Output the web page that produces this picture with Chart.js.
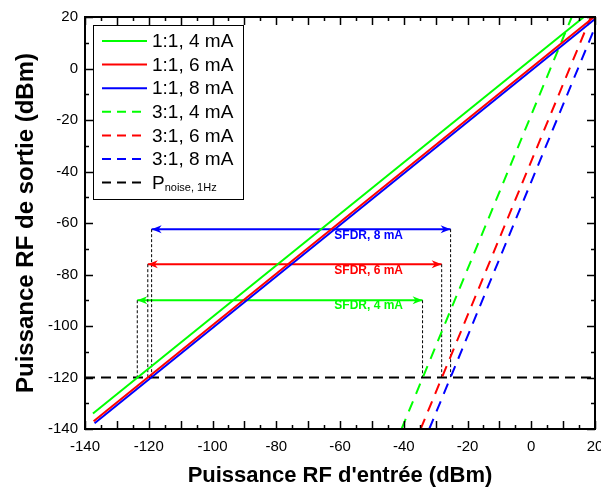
<!DOCTYPE html>
<html>
<head>
<meta charset="utf-8">
<script src="https://cdn.jsdelivr.net/npm/chart.js@4.4.1/dist/chart.umd.min.js"></script>
<style>
  html, body { margin: 0; padding: 0; background: #fff; }
  #wrap { width: 601px; height: 491px; }
</style>
</head>
<body>
<div id="wrap"><canvas id="chart" width="601" height="491"></canvas></div>
<script>
// ===== data =====
// 1:1 modulators (solid lines), endpoints in dBm
const x11_4mA = [-137.5, 16.5];
const y11_4mA = [-134.0, 20.0];
const x11_6mA = [-137.3, 19.7];
const y11_6mA = [-137.0, 20.0];
const x11_8mA = [-137.0, 20.0];
const y11_8mA = [-137.8, 19.2];

// 3:1 intermodulation (dashed lines)
const x31_4mA = [-40.7, 12.7];
const y31_4mA = [-140.0, 20.0];
const x31_6mA = [-34.7, 18.7];
const y31_6mA = [-140.0, 20.0];
const x31_8mA = [-32.0, 20.0];
const y31_8mA = [-140.0, 16.0];

// noise floor
const noiseX = [-140, 20];
const noiseY = [-120, -120];

// SFDR arrows
const sfdrLabels = ["SFDR, 8 mA", "SFDR, 6 mA", "SFDR, 4 mA"];
const sfdrColors = ["#0000ff", "#ff0000", "#00ff00"];
const sfdrY = [-62.4, -76.0, -90.0];
const sfdrLeft = [-119.1, -120.3, -123.6];
const sfdrRight = [-25.3, -28.1, -34.1];
const sfdrLabelX = [-51, -51, -51];
const sfdrLabelY = [-64.8, -78.4, -92.2];

const legendLabels = ["1:1, 4 mA", "1:1, 6 mA", "1:1, 8 mA", "3:1, 4 mA", "3:1, 6 mA", "3:1, 8 mA", "P"];

const xTicks = [-140, -120, -100, -80, -60, -40, -20, 0, 20];
const yTicks = [-140, -120, -100, -80, -60, -40, -20, 0, 20];

// helpers
const pts = (xs, ys) => xs.map((x, i) => ({ x, y: ys[i] }));
const line = (xs, ys, color, dash, width) => ({
  data: pts(xs, ys),
  borderColor: color,
  backgroundColor: color,
  borderWidth: width || 2,
  borderDash: dash || [],
  pointRadius: 0,
  showLine: true,
  fill: false
});

const datasets = [
  line(x11_4mA, y11_4mA, "#00ff00"),
  line(x11_6mA, y11_6mA, "#ff0000"),
  line(x11_8mA, y11_8mA, "#0000ff"),
  line(x31_4mA, y31_4mA, "#00ff00", [11, 8]),
  line(x31_6mA, y31_6mA, "#ff0000", [11, 8]),
  line(x31_8mA, y31_8mA, "#0000ff", [11, 8]),
  line(noiseX, noiseY, "#000000", [10, 6])
];

// dotted drop lines from arrow ends to the noise floor
sfdrY.forEach((y, i) => {
  datasets.push(line([sfdrLeft[i], sfdrLeft[i]], [y, noiseY[0]], "#000", [3, 2], 1));
  datasets.push(line([sfdrRight[i], sfdrRight[i]], [y, noiseY[0]], "#000", [3, 2], 1));
});

// arrow shafts (heads drawn in the plugin)
const arrowStart = datasets.length;
sfdrY.forEach((y, i) => {
  datasets.push(line([sfdrLeft[i], sfdrRight[i]], [y, y], sfdrColors[i]));
});

const FONT = "Arial, 'Liberation Sans'";

function arrowHead(ctx, px, py, dir, color) {
  ctx.fillStyle = color;
  ctx.beginPath();
  ctx.moveTo(px, py);
  ctx.lineTo(px - dir * 10, py - 4);
  ctx.lineTo(px - dir * 7, py);
  ctx.lineTo(px - dir * 10, py + 4);
  ctx.closePath();
  ctx.fill();
}

// frame, inward ticks, arrowheads, SFDR labels and legend
const decorPlugin = {
  id: "decor",
  afterDatasetsDraw(chart) {
    const { ctx, chartArea: a, scales } = chart;
    const xs = scales.x, ys = scales.y;
    ctx.save();
    ctx.strokeStyle = "#000";
    ctx.lineWidth = 2;
    ctx.strokeRect(a.left, a.top, a.right - a.left, a.bottom - a.top);

    ctx.lineWidth = 1.5;
    ctx.beginPath();
    for (let v = xs.min; v <= xs.max; v += 5) {
      const px = Math.round(xs.getPixelForValue(v)) + 0.5;
      const len = v % 10 === 0 ? 8 : 4;
      ctx.moveTo(px, a.bottom); ctx.lineTo(px, a.bottom - len);
      ctx.moveTo(px, a.top); ctx.lineTo(px, a.top + len);
    }
    for (let v = ys.min; v <= ys.max; v += 10) {
      const py = Math.round(ys.getPixelForValue(v)) + 0.5;
      const len = v % 20 === 0 ? 8 : 4;
      ctx.moveTo(a.left, py); ctx.lineTo(a.left + len, py);
      ctx.moveTo(a.right, py); ctx.lineTo(a.right - len, py);
    }
    ctx.stroke();

    // arrowheads at both ends of each SFDR shaft
    sfdrY.forEach((y, i) => {
      const pts = chart.getDatasetMeta(arrowStart + i).data;
      arrowHead(ctx, pts[0].x, pts[0].y, -1, sfdrColors[i]);
      arrowHead(ctx, pts[1].x, pts[1].y, 1, sfdrColors[i]);
    });

    // SFDR labels
    ctx.font = "bold 12px " + FONT;
    ctx.textAlign = "center";
    ctx.textBaseline = "middle";
    sfdrLabels.forEach((t, i) => {
      ctx.fillStyle = sfdrColors[i];
      ctx.fillText(t, xs.getPixelForValue(sfdrLabelX[i]), ys.getPixelForValue(sfdrLabelY[i]));
    });

    // legend box
    const bx = a.left + 8, by = a.top + 8, bw = 150, bh = 174;
    ctx.fillStyle = "#fff";
    ctx.fillRect(bx, by, bw, bh);
    ctx.lineWidth = 1;
    ctx.strokeStyle = "#000";
    ctx.strokeRect(bx + 0.5, by + 0.5, bw, bh);
    ctx.textAlign = "left";
    legendLabels.forEach((t, i) => {
      const ds = chart.data.datasets[i];
      const cy = by + 16 + i * 23.6;
      ctx.strokeStyle = ds.borderColor;
      ctx.lineWidth = 2;
      ctx.setLineDash(ds.borderDash.length ? [9, 6] : []);
      ctx.beginPath();
      ctx.moveTo(bx + 9, cy);
      ctx.lineTo(bx + 54, cy);
      ctx.stroke();
      ctx.setLineDash([]);
      ctx.fillStyle = "#000";
      ctx.font = "19px " + FONT;
      ctx.fillText(t, bx + 59, cy + 1);
      if (i === legendLabels.length - 1) {
        const w = ctx.measureText(t).width;
        ctx.font = "11px " + FONT;
        ctx.fillText("noise, 1Hz", bx + 59 + w, cy + 5);
      }
    });
    ctx.restore();
  }
};

new Chart(document.getElementById("chart"), {
  type: "scatter",
  data: { datasets },
  options: {
    responsive: false,
    animation: false,
    layout: { padding: { top: 17, right: 6, left: 0, bottom: 0 } },
    plugins: { legend: { display: false }, tooltip: { enabled: false } },
    scales: {
      x: {
        type: "linear",
        min: -140,
        max: 20,
        afterBuildTicks: s => { s.ticks = xTicks.map(v => ({ value: v })); },
        afterFit: s => { s.height = 62; s.paddingLeft = 0; s.paddingRight = 0; },
        grid: { display: false, drawTicks: false },
        border: { display: false },
        ticks: { font: { family: FONT, size: 15 }, color: "#000", padding: 9, maxRotation: 0, autoSkip: false },
        title: {
          display: true,
          text: "Puissance RF d'entrée (dBm)",
          font: { family: FONT, size: 22, weight: "bold" },
          color: "#000",
          padding: { top: 0, bottom: 2 }
        }
      },
      y: {
        type: "linear",
        min: -140,
        max: 20,
        afterBuildTicks: s => { s.ticks = yTicks.map(v => ({ value: v })); },
        afterFit: s => { s.width = 85; s.paddingTop = 0; s.paddingBottom = 0; },
        grid: { display: false, drawTicks: false },
        border: { display: false },
        ticks: { font: { family: FONT, size: 15 }, color: "#000", padding: 7, autoSkip: false },
        title: {
          display: true,
          text: "Puissance RF de sortie (dBm)",
          font: { family: FONT, size: 24, weight: "bold" },
          color: "#000",
          padding: { top: 12, bottom: 0 }
        }
      }
    }
  },
  plugins: [decorPlugin]
});
</script>
</body>
</html>
